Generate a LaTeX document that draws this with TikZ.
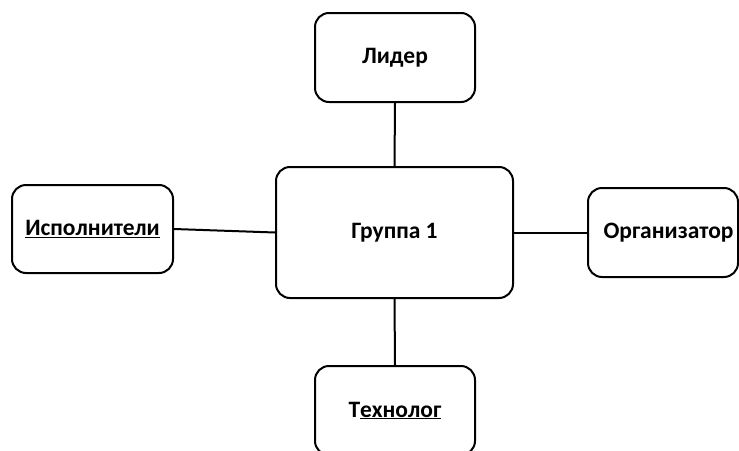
\documentclass[tikz,border=0pt]{standalone}
\usepackage{fontspec}
\setmainfont{Carlito}
\usetikzlibrary{positioning}

\tikzset{
  rolebox/.style={draw, line width=2pt, rounded corners=14pt, align=center,
    font=\fontsize{23.5}{27}\selectfont\bfseries},
  link/.style={line width=2pt}
}

\begin{document}
\begin{tikzpicture}[x=1pt, y=-1pt]
            % Frame
            \useasboundingbox (0,0) rectangle (739,450);
            \clip (0,0) rectangle (739,450);
            % Centre group
            \node[rolebox, minimum width=237pt, minimum height=131pt] (gruppa) at (394.5,232.5) {Группа 1};
            % Roles around the group
            \node[rolebox, minimum width=160pt, minimum height=89pt] (lider) at (395,57.5) {Лидер};
            \node[rolebox, minimum width=161pt, minimum height=88pt] (ispoln) at (92.5,229) {\underline{Исполнители}};
            \node[rolebox, minimum width=150pt, minimum height=89pt] (organiz) at (663,232.5) {\hspace*{11pt}Организатор};
            \node[rolebox, minimum width=160pt, minimum height=89pt] (tehnolog) at (395,410.5) {Т\underline{ехнолог}};
            % Links
            \draw[link] (lider.south) -- (gruppa.north);
            \draw[link] (ispoln.east) -- (gruppa.west);
            \draw[link] (gruppa.east) -- (organiz.west);
            \draw[link] (gruppa.south) -- (tehnolog.north);
         \end{tikzpicture}
\end{document}
